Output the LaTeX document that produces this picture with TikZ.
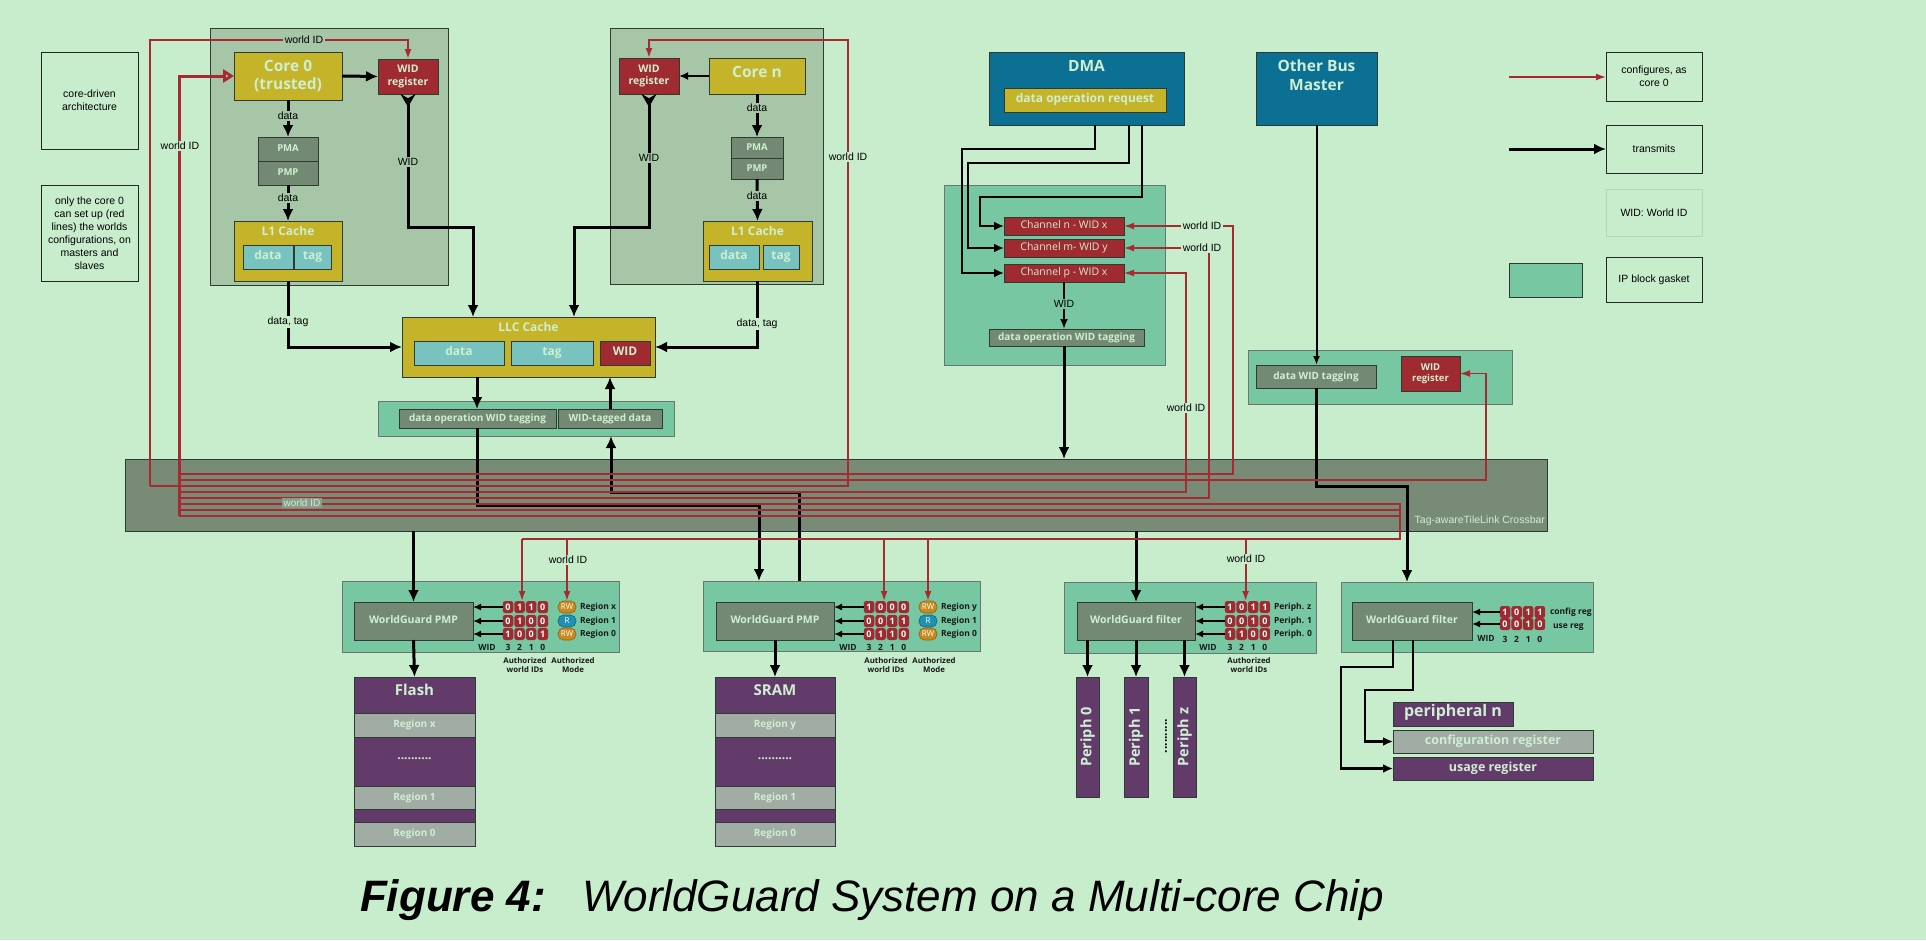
\documentclass[tikz,border=0pt]{standalone}
\usepackage{fontspec}
\setmainfont{Liberation Sans}
\newfontfamily\os{Open Sans}
\usetikzlibrary{arrows.meta,calc}
\definecolor{bg}{HTML}{C8EDCD}
\definecolor{contC}{HTML}{A7C6A8}
\definecolor{yel}{HTML}{C5B42A}
\definecolor{redB}{HTML}{9F2A2F}
\definecolor{grayB}{HTML}{738973}
\definecolor{cyanB}{HTML}{78C3C0}
\definecolor{blueB}{HTML}{0B7094}
\definecolor{gask}{HTML}{76C7A2}
\definecolor{xbar}{HTML}{778B77}
\definecolor{xbarL}{HTML}{8A9C8B}
\definecolor{purp}{HTML}{633B6B}
\definecolor{regG}{HTML}{A1ACA4}
\definecolor{redL}{HTML}{A8292F}
\definecolor{txtL}{HTML}{CFEFD2}
\definecolor{orgP}{HTML}{C98A1F}
\definecolor{bluP}{HTML}{2191B3}
\definecolor{edge}{HTML}{2E3B30}
\definecolor{legfaint}{HTML}{B3D8B8}
\newcommand\fs[2]{\fontsize{#1}{#2}\selectfont}
\newcommand\Bx[7]{\node[#1,minimum width={(#5)-(#3)},minimum height={(#6)-(#4)}] (#2) at ({((#3)+(#5))/2},{((#4)+(#6))/2}) {#7};}
\newcommand\Row[4]{\foreach \b [count=\i from 0] in {#4} {\node[cell] (#1\i) at ({#2+\i*11.6},#3) {\b};}}
\newcommand\Nums[3]{\foreach \n [count=\i from 0] in {3,2,1,0} {\node[small] (#1\i) at ({#2+\i*11.6},#3) {\n};}}
\tikzset{
 x=1pt,y=-1pt,
 every node/.style={inner sep=0pt,outer sep=0pt},
 bx/.style={draw=edge,line width=0.9pt,align=center},
 one/.style={text height=0.72em,text depth=0.2em},
 note/.style={bx,draw=black!85,fill=bg,font=\fs{10.5}{13}},
 cont/.style={bx,fill=contC},
 ybox/.style={bx,fill=yel,text=txtL,font=\os\bfseries\fs{12}{14}},
 rreg/.style={bx,fill=redB,text=txtL,font=\os\bfseries\fs{10.5}{12.5}},
 gbox/.style={bx,fill=grayB,text=txtL,font=\os\bfseries\fs{9.5}{11},one},
 cbox/.style={bx,fill=cyanB,text=txtL,font=\os\bfseries\fs{12}{14},one},
 bbox/.style={bx,fill=blueB},
 gasket/.style={bx,draw=edge!70,fill=gask},
 chbox/.style={bx,fill=redB,text=txtL,font=\os\fs{10.5}{12},one},
 tagbox/.style={bx,fill=grayB,text=txtL,font=\os\bfseries\fs{10}{12},one},
 purpbox/.style={bx,fill=purp,text=txtL},
 regbox/.style={bx,fill=regG,text=txtL,font=\os\bfseries\fs{10}{12},one},
 ltxt/.style={text=txtL,font=\os\bfseries\fs{12}{14},align=center},
 dots/.style={text=txtL,font=\os\bfseries\fs{12}{14}},
 lbl/.style={font=\fs{10.5}{12.5},text=black,inner sep=1.5pt},
 cell/.style={fill=redB,rounded corners=2.5pt,minimum width=10.5pt,minimum height=12pt,text=white,font=\os\bfseries\fs{9}{10}},
 pillO/.style={fill=orgP,draw=orgP!70!black,line width=0.6pt,rounded corners=5.5pt,minimum width=18pt,minimum height=12pt,text=white,font=\os\fs{8}{9}},
 pillB/.style={pillO,fill=bluP,draw=bluP!70!black},
 small/.style={font=\os\bfseries\fs{8.5}{10},text=black!90,align=center},
 auth/.style={small,font=\os\bfseries\fs{7.8}{9.5}},
 blk/.style={draw=black,line width=3pt,-{Latex[length=12pt,width=11pt]}},
 mid/.style={draw=black,line width=2.4pt,-{Latex[length=10pt,width=9pt]}},
 thinar/.style={draw=black,line width=1.6pt,-{Latex[length=8pt,width=7pt]}},
 rl/.style={draw=redL,line width=1.8pt},
 rla/.style={rl,-{Latex[length=10pt,width=7pt]}},
 startY/.style={{Stealth[reversed,length=13pt,width=15pt]}-{Latex[length=12pt,width=11pt]}},
}
\begin{document}
\begin{tikzpicture}
\fill[bg] (0,0) rectangle (1926,940);
\useasboundingbox (0,0) rectangle (1926,940);

% notes
\Bx{note}{n1}{41}{52}{138}{149}{core-driven\\architecture}
\Bx{note}{n2}{41}{185}{138}{281}{only the core 0\\can set up (red\\lines) the worlds\\configurations, on\\masters and\\slaves}

% core 0
\Bx{cont}{c0}{210}{28}{448}{285}{}
\Bx{ybox,font=\os\bfseries\fs{15.5}{18}}{core0}{234}{52}{342}{100}{Core 0\\(trusted)}
\Bx{rreg}{wid0}{378}{59}{438}{94}{WID\\register}
\Bx{gbox}{pma0}{258}{137}{318}{161}{PMA}
\Bx{gbox}{pmp0}{258}{161}{318}{185}{PMP}
\Bx{ybox}{l10}{234}{221}{342}{281}{}
\node[ltxt] (l10t) at (288,231) {L1 Cache};
\Bx{cbox}{l10d}{243}{245}{293}{269}{data}
\Bx{cbox}{l10g}{294}{245}{331}{269}{tag}

% core n
\Bx{cont}{cn}{610}{28}{823}{284}{}
\Bx{rreg}{widn}{619}{58}{679}{94}{WID\\register}
\Bx{ybox}{coren}{709}{58}{805}{94}{}
\node[ltxt,font=\os\bfseries\fs{15.5}{17}] (corent) at (757,72) {Core n};
\Bx{gbox}{pman}{731}{137}{783}{158}{PMA}
\Bx{gbox}{pmpn}{731}{158}{783}{179}{PMP}
\Bx{ybox}{l1n}{703}{221}{812}{281}{}
\node[ltxt] (l1nt) at (757.5,231) {L1 Cache};
\Bx{cbox}{l1nd}{709}{245}{759}{269}{data}
\Bx{cbox}{l1ng}{763}{245}{799}{269}{tag}

% LLC
\Bx{ybox}{llc}{402}{317}{655}{377}{}
\node[ltxt] (llct) at (528.5,327) {LLC Cache};
\Bx{cbox}{llcd}{414}{341}{504}{365}{data}
\Bx{cbox}{llcg}{511}{341}{593}{365}{tag}
\Bx{rreg,font=\os\bfseries\fs{12}{14},one}{llcw}{600}{341}{650}{365}{WID}
\Bx{gasket}{gl}{378}{401}{674}{436}{}
\Bx{tagbox}{tag1}{399}{409}{556}{428}{data operation WID tagging}
\Bx{tagbox}{tag2}{558}{409}{662}{428}{WID-tagged data}

% DMA
\Bx{bbox}{dma}{989}{52}{1184}{125}{}
\node[ltxt,font=\os\bfseries\fs{15.5}{17}] (dmat) at (1086.5,66) {DMA};
\Bx{ybox,font=\os\bfseries\fs{12}{14},one}{req}{1004}{88}{1166}{112}{data operation request}
\Bx{bbox}{obm}{1256}{52}{1377}{125}{}
\node[ltxt,font=\os\bfseries\fs{15.5}{19}] (obmt) at (1316.5,75) {Other Bus\\Master};
\Bx{gasket}{gd}{944}{185}{1165}{365}{}
\Bx{chbox}{chn}{1004}{217}{1124}{235}{Channel n - WID x}
\Bx{chbox}{chm}{1004}{239}{1124}{257}{Channel m- WID y}
\Bx{chbox}{chp}{1004}{264}{1124}{282}{Channel p - WID x}
\Bx{tagbox}{dmatag}{989}{329}{1144}{346}{data operation WID tagging}

% other bus gasket
\Bx{gasket}{go}{1248}{350}{1512}{404}{}
\Bx{tagbox}{obt}{1256}{365}{1376}{388}{data WID tagging}
\Bx{rreg,font=\os\bfseries\fs{9.5}{11}}{obw}{1401}{356}{1460}{391}{WID\\register}

% crossbar
\Bx{bx,fill=xbar}{xb}{125}{459}{1547}{531}{}
\node[anchor=east,text=txtL,font=\fs{10.5}{12}] (xbt) at (1545,521) {Tag-awareTileLink Crossbar};

% WorldGuard PMP 1
\Bx{gasket}{g1}{342}{581}{619}{652}{}
\Bx{tagbox,font=\os\bfseries\fs{10.5}{12}}{wg1}{354}{602}{473}{640}{WorldGuard PMP}
\Row{p1a}{508}{607}{0,1,1,0}
\Row{p1b}{508}{621}{0,1,0,0}
\Row{p1c}{508}{634}{1,0,0,1}
\Nums{p1n}{508}{647}
\node[small] (p1w) at (487,647) {WID};
\node[pillO] (p1m0) at (567,607) {RW};
\node[pillB] (p1m1) at (567,621) {R};
\node[pillO] (p1m2) at (567,634) {RW};
\node[small,anchor=west] (p1r0) at (580,607) {Region x};
\node[small,anchor=west] (p1r1) at (580,621) {Region 1};
\node[small,anchor=west] (p1r2) at (580,634) {Region 0};
\node[auth] (p1auth) at (525,665) {Authorized\\world IDs};
\node[auth] (p1mode) at (573,665) {Authorized\\Mode};

% Flash
\Bx{purpbox}{flash}{354}{677}{475}{846}{}
\node[ltxt,font=\os\bfseries\fs{15}{17}] (flasht) at (414.5,690) {Flash};
\Bx{regbox}{fx}{354}{713}{475}{737}{Region x}
\node[dots] (fdots) at (414.5,759) {..........};
\Bx{regbox}{fr1}{354}{786}{475}{809}{Region 1}
\Bx{regbox}{fr0}{354}{822}{475}{846}{Region 0}

% WorldGuard PMP 2
\Bx{gasket}{g2}{703}{581}{980}{651}{}
\Bx{tagbox,font=\os\bfseries\fs{10.5}{12}}{wg2}{716}{602}{834}{640}{WorldGuard PMP}
\Row{p2a}{869}{607}{1,0,0,0}
\Row{p2b}{869}{621}{0,0,1,1}
\Row{p2c}{869}{634}{0,1,1,0}
\Nums{p2n}{869}{647}
\node[small] (p2w) at (848,647) {WID};
\node[pillO] (p2m0) at (928,607) {RW};
\node[pillB] (p2m1) at (928,621) {R};
\node[pillO] (p2m2) at (928,634) {RW};
\node[small,anchor=west] (p2r0) at (941,607) {Region y};
\node[small,anchor=west] (p2r1) at (941,621) {Region 1};
\node[small,anchor=west] (p2r2) at (941,634) {Region 0};
\node[auth] (p2auth) at (886,665) {Authorized\\world IDs};
\node[auth] (p2mode) at (934,665) {Authorized\\Mode};

% SRAM
\Bx{purpbox}{sram}{715}{677}{835}{846}{}
\node[ltxt,font=\os\bfseries\fs{15}{17}] (sramt) at (775,690) {SRAM};
\Bx{regbox}{sy}{715}{713}{835}{737}{Region y}
\node[dots] (sdots) at (775,759) {..........};
\Bx{regbox}{sr1}{715}{786}{835}{809}{Region 1}
\Bx{regbox}{sr0}{715}{822}{835}{846}{Region 0}

% WorldGuard filter 1
\Bx{gasket}{g3}{1064}{582}{1316}{653}{}
\Bx{tagbox,font=\os\bfseries\fs{10.5}{12}}{wf1}{1077}{602}{1195}{640}{WorldGuard filter}
\Row{q1a}{1230}{607}{1,0,1,1}
\Row{q1b}{1230}{621}{0,0,1,0}
\Row{q1c}{1230}{634}{1,1,0,0}
\Nums{q1n}{1230}{647}
\node[small] (q1w) at (1208,647) {WID};
\node[small,anchor=west] (q1r0) at (1274,607) {Periph. z};
\node[small,anchor=west] (q1r1) at (1274,621) {Periph. 1};
\node[small,anchor=west] (q1r2) at (1274,634) {Periph. 0};
\node[auth] (q1auth) at (1249,665) {Authorized\\world IDs};
\Bx{purpbox}{pe0}{1076}{677}{1099}{797}{}
\Bx{purpbox}{pe1}{1124}{677}{1148}{797}{}
\Bx{purpbox}{pez}{1173}{677}{1196}{797}{}
\node[ltxt,rotate=90,font=\os\bfseries\fs{14.5}{16}] (pe0t) at (pe0.center) {Periph 0};
\node[ltxt,rotate=90,font=\os\bfseries\fs{14.5}{16}] (pe1t) at (pe1.center) {Periph 1};
\node[ltxt,rotate=90,font=\os\bfseries\fs{14.5}{16}] (pezt) at (pez.center) {Periph z};
\node[dots,text=black,rotate=90] (pdots) at (1166,736) {..........};

% WorldGuard filter 2
\Bx{gasket}{g4}{1341}{582}{1593}{652}{}
\Bx{tagbox,font=\os\bfseries\fs{10.5}{12}}{wf2}{1352}{602}{1472}{640}{WorldGuard filter}
\Row{q2a}{1505}{612}{1,0,1,1}
\Row{q2b}{1505}{624}{0,0,1,0}
\Nums{q2n}{1505}{639}
\node[small] (q2w) at (1486,638) {WID};
\node[small,anchor=west] (q2r0) at (1550,612) {config reg};
\node[small,anchor=west] (q2r1) at (1553,627) {use reg};
\Bx{purpbox,font=\os\bfseries\fs{16}{18},one}{pn}{1393}{702}{1513}{726}{peripheral n}
\Bx{regbox,font=\os\bfseries\fs{12.5}{14}}{cfg}{1393}{730}{1593}{753}{configuration register}
\Bx{purpbox,font=\os\bfseries\fs{12.5}{14},one}{usage}{1393}{757}{1593}{780}{usage register}

% legend
\Bx{note}{leg1}{1606}{52}{1702}{101}{configures, as\\core 0}
\Bx{note}{leg2}{1606}{125}{1702}{173}{transmits}
\Bx{note,draw=legfaint}{leg3}{1606}{189}{1702}{236}{WID: World ID}
\Bx{note}{leg4}{1606}{257}{1702}{302}{IP block gasket}
\Bx{gasket,draw=edge}{leg4s}{1509}{263}{1582}{297}{}
\coordinate (lg1) at (1509,77);
\coordinate (lg2) at (1509,149);
\draw[rl,line width=1.4pt,-{Latex[length=10pt,width=7pt]}] (lg1) -- (lg1 -| leg1.west);
\draw[blk] (lg2) -- (lg2 -| leg2.west);

% ---------- black connectors
\draw[blk] (core0.east) -- (wid0.west);
\draw[blk] (core0.south) -- (pma0.north);
\draw[blk] (pmp0.south) -- (l10.north);
\draw[blk,startY] (wid0.south) -- ++(0,133) -| ([xshift=71pt]llc.north west);
\draw[draw=black,line width=2.2pt,-{Latex[length=9pt,width=8pt]}] (coren.west) -- (widn.east);
\draw[blk] (coren.south) -- (pman.north);
\draw[blk] (pmpn.south) -- (l1n.north);
\draw[blk,startY] (widn.south) -- ++(0,133) -| ([xshift=172pt]llc.north west);
\draw[blk] (l10.south) |- (llc.west);
\draw[blk] (l1n.south) |- (llc.east);
\draw[blk] ([xshift=75pt]llc.south west) -- ([xshift=78pt]tag1.north west);
\draw[blk] ([xshift=78pt]tag1.south west) -- ++(0,77) -| ([xshift=56pt]g2.north west);
\draw[blk] ([xshift=96pt]g2.north west) -- ++(0,-89) -| ([xshift=233pt]gl.south west);
\draw[blk] ([xshift=52pt]tag2.north west) -- ([xshift=208pt]llc.south west);
% DMA
\draw[mid] ([xshift=106pt]dma.south west) |- ++(-133,24) |- (chp.west);
\draw[mid] ([xshift=140pt]dma.south west) |- ++(-161,38) |- (chm.west);
\draw[mid] ([xshift=153pt]dma.south west) |- ++(-162,72) |- (chn.west);
\draw[draw=black,line width=2pt,-{Latex[length=10pt,width=8pt]}] (chp.south) -- (chp.south |- dmatag.north);
\draw[blk] (chp.south |- dmatag.south) -- (chp.south |- xb.north);
\draw[draw=black,line width=2pt,-{Latex[length=9pt,width=7pt]}] (obm.south) -- (obm.south |- obt.north);
\draw[blk] (obm.south |- obt.south) -- ++(0,98) -| ([xshift=66pt]g4.north west);
% to slaves
\draw[blk] (wg1.north |- xb.south) -- (wg1.north);
\draw[blk] (wg1.south) -- (flash.north);
\draw[blk] (wg2.south) -- (sram.north);
\draw[blk] (wf1.north |- xb.south) -- (wf1.north);
\draw[blk] (wf1.south -| pe0.north) -- (pe0.north);
\draw[blk] (wf1.south -| pe1.north) -- (pe1.north);
\draw[blk] (wf1.south -| pez.north) -- (pez.north);
\draw[mid] ([xshift=41pt]wf2.south west) -- ++(0,27) -- ++(-52,0) |- (usage.west);
\draw[mid] ([xshift=61pt]wf2.south west) -- ++(0,50) -- ++(-48,0) |- (cfg.west);
% cell arrows
\foreach \r in {a,b,c} {
 \draw[thinar] (p1\r0.west) -- (wg1.east |- p1\r0.west);
 \draw[thinar] (p2\r0.west) -- (wg2.east |- p2\r0.west);
 \draw[thinar] (q1\r0.west) -- (wf1.east |- q1\r0.west);
}
\foreach \r in {a,b} {\draw[thinar] (q2\r0.west) -- (wf2.east |- q2\r0.west);}

% ---------- red connectors
\coordinate (top0) at (150,40);
\coordinate (topn) at (848,40);
\coordinate (r150) at (150,486);
\coordinate (h1) at (179,474);
\coordinate (h2) at (179,480);
\coordinate (h3) at (179,492);
\coordinate (h4) at (179,498);
\coordinate (h5) at (179,504);
\coordinate (h6) at (179,510);
\coordinate (h7) at (179,516);
\coordinate (jR) at (1400,539);
\coordinate (a1) at ([xshift=2.5pt]p1a1.north);
\coordinate (a2) at ([xshift=3.5pt]p2a1.north);
\coordinate (a3) at ([xshift=4pt]q1a1.north);
\draw[rla] (r150) -- (top0) -| (wid0.north);
\draw[rla] (r150) -| (topn) -| (widn.north);
\draw[rl,line width=3pt,-{Triangle[open,length=11pt,width=13pt]}] (h7) |- (core0.west);
\draw[rla,line width=1.5pt] (h1) -| ([xshift=109pt]chn.east) -- (chn.east);
\draw[rla,line width=1.5pt] (h2) -| ([xshift=26pt]obw.east) -- (obw.east);
\draw[rla,line width=1.5pt] (h3) -| ([xshift=62pt]chp.east) -- (chp.east);
\draw[rla,line width=1.5pt] (h4) -| ([xshift=85pt]chm.east) -- (chm.east);
\draw[rl] (h5) -| (jR);
\draw[rl] (h6) -| (jR);
\draw[rl] (h7) -| (jR) -- (jR -| a1);
\draw[rla] (jR -| a1) -- (a1);
\draw[rla] (jR -| p1m0.north) -- (p1m0.north);
\draw[rla] (jR -| a2) -- (a2);
\draw[rla] (jR -| p2m0.north) -- (p2m0.north);
\draw[rla] (jR -| a3) -- (a3);

% ---------- labels on connectors
\node[lbl,fill=contC] (wl0) at (304,40) {world ID};
\node[lbl,fill=bg] (wl1) at (180,146) {world ID};
\node[lbl,fill=bg] (wl2) at (848,157) {world ID};
\node[lbl,fill=bg] (wl3) at (1202,226) {world ID};
\node[lbl,fill=bg] (wl4) at (1202,248) {world ID};
\node[lbl,fill=bg] (wl5) at (1186,408) {world ID};
\node[lbl,fill=bg] (wl6) at (568,560) {world ID};
\node[lbl,fill=bg] (wl7) at (1246,559) {world ID};
\node[lbl,fill=xbarL,text=txtL,font=\fs{10}{12}] (wl8) at (302,503) {world ID};
\node[lbl,fill=contC] (dl1) at (288,116) {data};
\node[lbl,fill=contC] (dl2) at (288,198) {data};
\node[lbl,fill=contC] (dl3) at (757,108) {data};
\node[lbl,fill=contC] (dl4) at (757,196) {data};
\node[lbl,fill=contC] (wdl1) at (408,162) {WID};
\node[lbl,fill=contC] (wdl2) at (649,158) {WID};
\node[lbl,fill=bg] (dt1) at (288,322) {data, tag};
\node[lbl,fill=bg] (dt2) at (757,324) {data, tag};
\node[lbl,fill=gask] (wdl3) at (1064,304) {WID};

% caption
\node[anchor=base west,font=\bfseries\itshape\fs{44}{50}] (capA) at (360,911) {Figure 4:};
\node[anchor=base west,font=\itshape\fs{44}{50}] (capB) at (582,911) {WorldGuard System on a Multi-core Chip};
\end{tikzpicture}
\end{document}
